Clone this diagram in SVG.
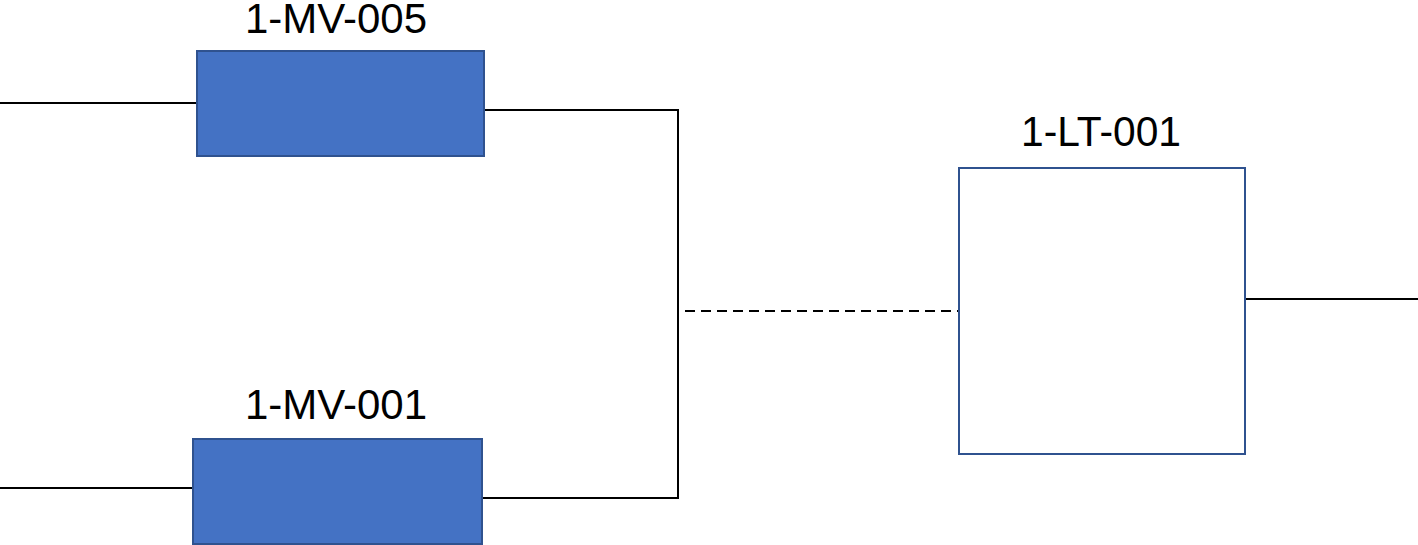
<svg xmlns="http://www.w3.org/2000/svg" width="1418" height="545" viewBox="0 0 1418 545">
<style>
.valve{fill:#4472C4;stroke:#2F528F;stroke-width:2}
.tank{fill:#FFFFFF;stroke:#2F528F;stroke-width:2}
.lbl{font-family:"Liberation Sans",Arial,sans-serif;font-size:42px;fill:#000;text-anchor:middle}
.wire{fill:none;stroke:#000;stroke-width:2}
.dash{fill:none;stroke:#000;stroke-width:2;stroke-dasharray:10 6}
</style>
<rect width="1418" height="545" fill="#FFFFFF"/>
<g id="connectors">
<line class="wire" x1="0" y1="103" x2="197" y2="103"/>
<polyline class="wire" points="484,110 678,110 678,498 482,498"/>
<line class="wire" x1="0" y1="488" x2="193" y2="488"/>
<line class="dash" x1="685" y1="311" x2="959" y2="311"/>
<line class="wire" x1="1245" y1="299" x2="1418" y2="299"/>
</g>
<g id="mv005">
<rect class="valve" x="197" y="51" width="287" height="105"/>
<text class="lbl" x="336" y="33">1-MV-005</text>
</g>
<g id="mv001">
<rect class="valve" x="193" y="439" width="289" height="105"/>
<text class="lbl" x="336" y="419">1-MV-001</text>
</g>
<g id="lt001">
<rect class="tank" x="959" y="168" width="286" height="286"/>
<text class="lbl" x="1101" y="146" textLength="160" lengthAdjust="spacingAndGlyphs">1-LT-001</text>
</g>
</svg>
